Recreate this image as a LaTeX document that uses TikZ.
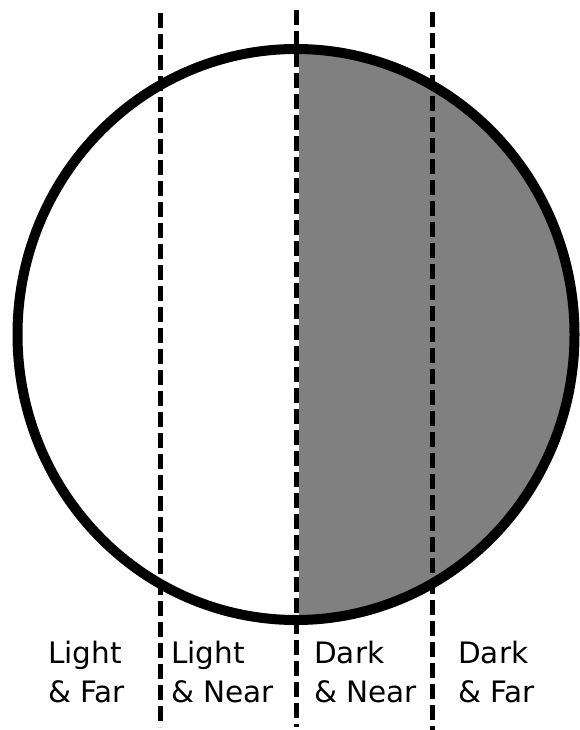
\documentclass[tikz,border=0pt]{standalone}
\usepackage{fontspec}
\setmainfont{DejaVu Sans}

\begin{document}
\begin{tikzpicture}[
  x=1pt, y=-1pt,
  rim/.style={line width=10pt},
  darkside/.style={fill=black!50},
  divider/.style={line width=5pt, dash pattern=on 15pt off 6pt},
  phase/.style={align=left, anchor=base west, inner sep=0pt, font=\fontsize{29.5}{38.5}\selectfont},
]
\useasboundingbox (0,0) rectangle (579,730);

% Dark half
\begin{scope}
  \clip (299,0) rectangle (579,730);
  \fill[darkside] (296,334.5) ellipse [x radius=278.5pt, y radius=285.5pt];
\end{scope}

% Rim
\draw[rim] (296,334.5) ellipse [x radius=278.5pt, y radius=285.5pt];

% Dividers
\coordinate (lt) at (160,13);  \coordinate (lb) at (160,727);
\coordinate (mt) at (296.5,10); \coordinate (mb) at (296.5,727);
\coordinate (rt) at (432,12);  \coordinate (rb) at (432,730);
\draw[divider] (lt) -- (lb);
\draw[divider] (mt) -- (mb);
\draw[divider] (rt) -- (rb);

% Labels (anchored on the last line)
\node[phase] (lightfar)  at (48,702)  {Light\\\& Far};
\node[phase] (lightnear) at (171,702) {Light\\\& Near};
\node[phase] (darknear)  at (314,702) {Dark\\\& Near};
\node[phase] (darkfar)   at (458,702) {Dark\\\& Far};

\end{tikzpicture}
\end{document}
